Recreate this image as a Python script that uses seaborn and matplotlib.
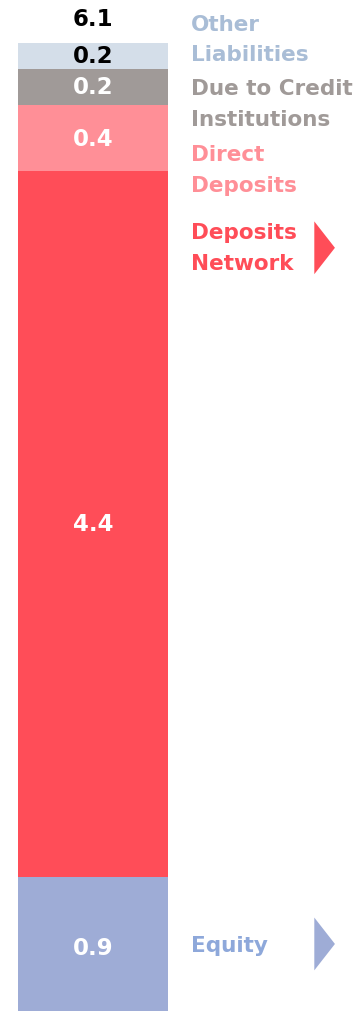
import matplotlib
matplotlib.use("Agg")
import matplotlib.pyplot as plt
import seaborn as sns
import numpy as np
import pandas as pd

# ---- data ----
categories = ["Equity", "Deposits Network", "Direct Deposits", "Due to Credit Institutions", "Other Liabilities"]
values = [0.89, 4.41, 0.41, 0.23, 0.16]
value_labels = ["0.9", "4.4", "0.4", "0.2", "0.2"]
total_label = "6.1"
legend_texts = ["Equity", "Deposits\nNetwork", "Direct\nDeposits", "Due to Credit\nInstitutions", "Other\nLiabilities"]

bar_colors = ["#9eacd6", "#ff4d58", "#ff8f97", "#a09a98", "#d4dee9"]
text_colors = ["#8ea8da", "#ff4d58", "#ff8f97", "#a09a98", "#a9bdd6"]
num_colors = ["white", "white", "white", "white", "black"]

sns.set_theme(style="white")
plt.rcParams["font.family"] = ["DejaVu Sans"]

fig = plt.figure(figsize=(3.58, 10.12), dpi=100)
ax = fig.add_axes([0, 0, 1, 1])

cum = np.cumsum(values)
bottoms = cum - np.array(values)
# stacked bar via overlaid cumulative bars (largest first)
for i in range(len(values) - 1, -1, -1):
    df = pd.DataFrame({"x": ["bar"], "y": [cum[i]]})
    sns.barplot(data=df, x="x", y="y", color=bar_colors[i], width=0.8,
                saturation=1, ax=ax, linewidth=0)

ax.set_xlim(-0.496, 1.413)
ax.set_ylim(0.05, 6.375)
ax.axis("off")

# segment value labels
for i in range(len(values)):
    yc = bottoms[i] + values[i] / 2
    ax.text(0, yc, value_labels[i], ha="center", va="center", color=num_colors[i],
            fontsize=16.5, fontweight="bold")
ax.text(0, cum[-1] + 0.15, total_label, ha="center", va="center", color="black",
        fontsize=16.5, fontweight="bold")

# right-hand labels
label_y = [0.465, 4.82, 5.31, 5.72, 6.125]
for i, t in enumerate(legend_texts):
    ax.text(0.52, label_y[i], t, ha="left", va="center", color=text_colors[i],
            fontsize=15.5, fontweight="bold", linespacing=1.68)

# arrows
for i, yc in [(1, 4.82), (0, 0.469)]:
    tri_x = [1.18, 1.18, 1.29]
    tri_y = [yc - 0.165, yc + 0.165, yc]
    ax.fill(tri_x, tri_y, color=bar_colors[i], lw=0)

fig.savefig("out.png", dpi=100)
